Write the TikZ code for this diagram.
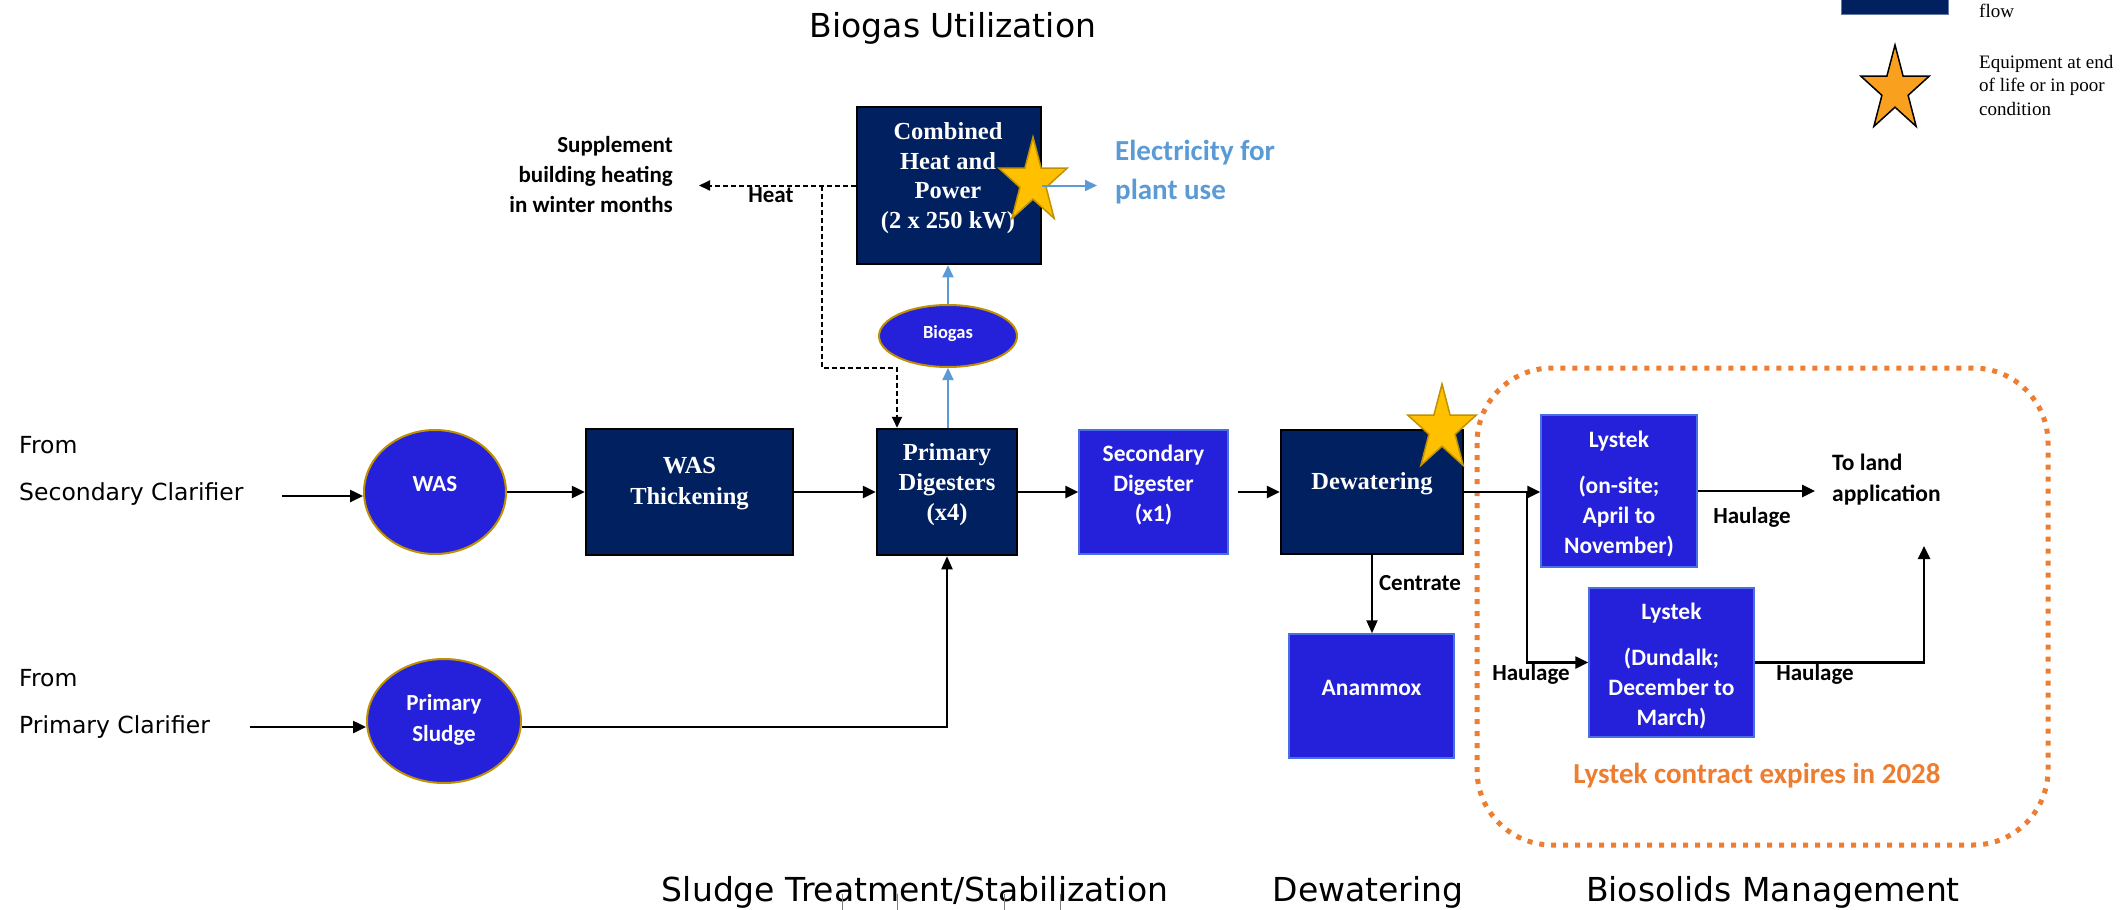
\documentclass[tikz,border=0pt]{standalone}
\usepackage{fontspec}
\setmainfont{Liberation Serif}
\newfontfamily\calfont{Carlito}
\newfontfamily\dvfont{DejaVu Sans}
\usetikzlibrary{shapes.geometric,arrows.meta,calc}
\definecolor{navyc}{HTML}{002060}
\definecolor{brb}{HTML}{2521DA}
\definecolor{bbord}{HTML}{4A6FE3}
\definecolor{goldb}{HTML}{BF9000}
\definecolor{starfill}{HTML}{FFC000}
\definecolor{stardraw}{HTML}{C09000}
\definecolor{legstar}{HTML}{F9A11E}
\definecolor{elecb}{HTML}{5B9BD5}
\definecolor{orng}{HTML}{ED7D31}
\newcommand\fsz[2]{\fontsize{#1}{#2}\selectfont}
\newcommand\drawstar[3]{%
 \draw[fill=#2, draw=#3, line width=1.5pt, line join=miter]
 ($(#1)+(-90:36 and 45)$) -- ($(#1)+(-54:13.8 and 17.2)$) --
 ($(#1)+(-18:36 and 45)$) -- ($(#1)+(18:13.8 and 17.2)$) --
 ($(#1)+(54:36 and 45)$) -- ($(#1)+(90:13.8 and 17.2)$) --
 ($(#1)+(126:36 and 45)$) -- ($(#1)+(162:13.8 and 17.2)$) --
 ($(#1)+(198:36 and 45)$) -- ($(#1)+(234:13.8 and 17.2)$) -- cycle;}
\begin{document}
\begin{tikzpicture}[x=1pt,y=-1pt,
 navy/.style={draw=black, line width=2.5pt, fill=navyc, inner sep=0},
 bbox/.style={draw=bbord, line width=1.5pt, fill=brb, inner sep=0},
 ell/.style={ellipse, draw=goldb, line width=2pt, fill=brb, inner sep=0},
 wtxt/.style={text=white, font=\bfseries\fsz{24.5}{29.5}, align=center, inner sep=0},
 ctxt/.style={text=white, font=\calfont\bfseries\fsz{23.5}{30}, align=center, inner sep=0},
 ktxt/.style={text=black, font=\calfont\bfseries\fsz{23}{30}, inner sep=0},
 ttl/.style={font=\dvfont\fsz{33}{40}, inner sep=0},
 arr/.style={line width=2.5pt, -{Triangle[length=13pt,width=12pt]}},
 tarr/.style={line width=2pt, -{Triangle[length=13pt,width=11pt]}},
 barr/.style={draw=elecb, line width=2pt, -{Triangle[length=12pt,width=11pt]}},
 darr/.style={line width=2pt, dash pattern=on 5pt off 3pt, -{Triangle[length=11pt,width=10pt]}},
]
\useasboundingbox (0,0) rectangle (2123,910);

% titles
\node[ttl] (t1) at (953,28) {Biogas Utilization};
\node[ttl] (t2) at (915,892) {Sludge Treatment/Stabilization};
\node[ttl] (t3) at (1368,892) {Dewatering};
\node[ttl] (t4) at (1773,892) {Biosolids Management};
\foreach \xx in {842,897,1004,1060}{\draw[gray, line width=1pt] (\xx,894) -- (\xx,910);}

% legend
\node[fill=navyc, draw=navyc!60, line width=1pt, inner sep=0, minimum width=107pt, minimum height=24pt] (legbox) at (1894.5,2) {};
\node[anchor=west, font=\fsz{19}{23.5}, inner sep=0] (legflow) at (1979,11) {flow};
\coordinate (ls) at (1895,90);
\drawstar{ls}{legstar}{black}
\node[anchor=west, align=left, font=\fsz{19}{23.5}, inner sep=0] (legtxt) at (1979,85) {Equipment at end\\of life or in poor\\condition};

% dotted contract box
\draw[orng, line width=5pt, dash pattern=on 5pt off 7pt, rounded corners=75pt] (1477,368) rectangle (2048,845);
\node[font=\calfont\bfseries\fsz{29}{34}, text=orng, inner sep=0] (contract) at (1757,776) {Lystek contract expires in 2028};

% CHP
\node[navy, minimum width=184pt, minimum height=157pt] (chp) at (949,185.5) {};
\node[wtxt] (chpT) at (948,178) {Combined\\Heat and\\Power\\(2 x 250 kW)};
\node[ell, minimum width=138pt, minimum height=62pt] (bio) at (948,336) {};
\node[ctxt, font=\calfont\bfseries\fsz{18.5}{22}] (bioT) at (948,334) {Biogas};
\node[anchor=west, align=left, text=elecb, font=\calfont\bfseries\fsz{29}{39}, inner xsep=18pt, inner ysep=0] (elec) at (1097,172.5) {Electricity for\\plant use};
\node[anchor=east, align=right, font=\calfont\bfseries\fsz{23}{30}, inner xsep=26pt, inner ysep=0] (supp) at (699,175) {Supplement\\building heating\\in winter months};
\node[ktxt] (heatL) at (771,195) {Heat};

% main row
\node[anchor=west, align=left, font=\dvfont\fsz{23.5}{47}, inner sep=0] (fromA) at (19,471) {From\\Secondary Clarifier};
\node[anchor=west, align=left, font=\dvfont\fsz{23.5}{47}, inner sep=0] (fromB) at (19,704) {From\\Primary Clarifier};
\coordinate (inA) at (282,496);
\coordinate (inB) at (250,727);

\node[ell, minimum width=142pt, minimum height=124pt] (was) at (435,492) {};
\node[ctxt, font=\calfont\bfseries\fsz{23}{30}] (wasT) at (435,484) {WAS};
\node[ell, minimum width=154pt, minimum height=124pt] (ps) at (444,721) {};
\node[ctxt, font=\calfont\bfseries\fsz{23}{31}] (psT) at (444,720) {Primary\\Sludge};

\node[navy, minimum width=207pt, minimum height=126pt] (wasth) at (689.5,492) {};
\node[wtxt, font=\bfseries\fsz{24.5}{31}] (wasthT) at (689.5,484) {WAS\\Thickening};
\node[navy, minimum width=140pt, minimum height=126pt] (pd) at (947,492) {};
\node[wtxt, font=\bfseries\fsz{24.5}{30}] (pdT) at (947,485) {Primary\\Digesters\\(x4)};
\node[bbox, minimum width=149pt, minimum height=124pt] (sd) at (1153.5,492) {};
\node[ctxt] (sdT) at (1153.5,485) {Secondary\\Digester\\(x1)};
\node[navy, minimum width=182pt, minimum height=124pt] (dew) at (1372,492) {};
\node[wtxt] (dewT) at (1372,484) {Dewatering};
\node[bbox, minimum width=165pt, minimum height=124pt] (anam) at (1371.5,696) {};
\node[ctxt] (anamT) at (1371.5,688) {Anammox};
\node[ktxt] (centL) at (1420,583) {Centrate};

\node[bbox, minimum width=156pt, minimum height=152pt] (ly1) at (1619,491) {};
\node[ctxt] (ly1T) at (1619,494) {Lystek\\[16pt](on-site;\\April to\\November)};
\node[bbox, minimum width=165pt, minimum height=149pt] (ly2) at (1671.5,662.5) {};
\node[ctxt] (ly2T) at (1671.5,666) {Lystek\\[16pt](Dundalk;\\December to\\March)};
\node[anchor=west, align=left, font=\calfont\bfseries\fsz{23.5}{31}, inner xsep=17pt, inner ysep=0] (toland) at (1815,480) {To land\\application};
\coordinate (landB) at (1924,546);
\coordinate (br) at (1527,492);
\node[ktxt] (hl1) at (1752,517) {Haulage};
\node[ktxt] (hl2) at (1531,674) {Haulage};
\node[ktxt] (hl3) at (1815,674) {Haulage};

% stars
\coordinate (s1) at (1033,182);
\drawstar{s1}{starfill}{stardraw}
\coordinate (s2) at (1442,429);
\drawstar{s2}{starfill}{stardraw}

% connectors
\draw[arr] (inA) -- (inA -| was.west);
\draw[arr] (inB) -- (inB -| ps.west);
\draw[arr] (was.east) -- (wasth.west);
\draw[arr] (wasth.east) -- (pd.west);
\draw[arr] (pd.east) -- (sd.west);
\draw[arr, shorten <=9pt] (sd.east) -- (dew.west);
\draw[tarr] (dew.south) -- (dew.south |- anam.north);
\draw[arr] (dew.east) -- (dew.east -| ly1.west);
\draw[arr] (br) |- (ly2.west);
\draw[arr] (ly1.east) -- (ly1.east -| toland.west);
\draw[arr] (ly2.east) -| (landB);
\draw[tarr] (inB -| ps.east) -| (pd.south);
\draw[barr] (pd.north -| bio.south) -- (bio.south);
\draw[barr] (bio.north) -- (bio.north |- chp.south);
\draw[barr] (chp.east) -- (chp.east -| elec.west);
\draw[darr] (chp.west) -- (chp.west -| supp.east);
\coordinate (hj) at (822,185.5);
\coordinate (hk) at (897,368);
\draw[darr] (hj) |- (hk) -- (hk |- pd.north);
\end{tikzpicture}
\end{document}
